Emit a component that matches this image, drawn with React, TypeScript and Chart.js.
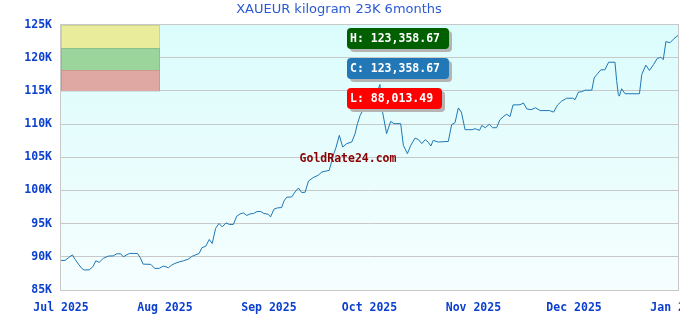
import React, { useEffect, useRef } from 'react';
import { Chart, registerables } from 'chart.js';

Chart.register(...registerables);

const TITLE = 'XAUEUR kilogram 23K 6months';
const WATERMARK = 'GoldRate24.com';

const MONTH_LABELS = ['Jul 2025', 'Aug 2025', 'Sep 2025', 'Oct 2025', 'Nov 2025', 'Dec 2025', 'Jan 2026'];
// days since 1 Jul 2025 at which each month starts
const MONTH_START_DAYS = [0, 31, 62, 92, 123, 153, 184];

const Y_MIN = 85000;
const Y_MAX = 125000;
const Y_STEP = 5000;

// days since 1 Jul 2025
const DAYS = [
  0, 1.2, 2.2, 3.4, 4.2, 5.2, 6.2, 6.9, 8.4, 9.5, 10.4, 11.4, 12.6, 14.1, 15.6, 16.6, 17.8, 18.6, 19.6, 20.4,
  22.8, 23.6, 24.5, 26.8, 27.9, 29.3, 30.5, 31.3, 32.0, 33.0, 34.0, 35.3, 36.5, 38.0, 39.0, 40.0, 41.2, 42.0,
  43.2, 44.2, 45.1, 46.1, 47.1, 48.1, 49.2, 50.2, 51.4, 52.4, 53.4, 54.4, 55.4, 56.4, 57.4, 58.5, 59.6, 60.5,
  61.8, 62.5, 63.5, 64.5, 65.8, 66.5, 67.3, 68.8, 69.8, 70.8, 71.8, 72.8, 73.8, 75.2, 76.7, 77.8, 78.7, 80.0,
  81.2, 82.0, 83.0, 84.0, 85.2, 86.7, 87.7, 88.4, 89.2, 90.0, 91.0, 92.2, 93.3, 94.2, 95.1, 95.9, 97.1, 98.3,
  99.3, 101.3, 102.1, 103.3, 104.3, 105.6, 106.6, 107.6, 108.6, 109.5, 110.3, 111.0, 112.5, 115.5, 116.5,
  117.5, 118.5, 119.4, 120.5, 122.6, 123.5, 124.8, 125.5, 126.5, 127.7, 128.7, 129.9, 130.9, 132.1, 132.9,
  133.9, 134.8, 136.9, 137.9, 138.9, 140.2, 141.5, 142.9, 145.7, 146.9, 148.1, 149.3, 150.8, 152.6, 153.3,
  154.3, 155.3, 156.3, 158.3, 159.0, 159.8, 161.0, 162.2, 163.3, 165.2, 165.7, 166.2, 166.5, 167.2, 168.2,
  172.5, 173.2, 174.4, 175.5, 176.7, 177.8, 178.9, 179.6, 180.4, 181.6, 182.8, 184.0,
];

const PRICES = [
  89460, 89460, 89850, 90300, 89610, 88900, 88260, 88013.49, 88030, 88500, 89400, 89160, 89760, 90110, 90150, 90450, 90450, 90000, 90300, 90510,
  90510, 89910, 88900, 88860, 88260, 88260, 88600, 88500, 88350, 88750, 89010, 89250, 89400, 89660, 90060, 90260, 90510, 91360,
  91610, 92620, 92020, 94270, 95030, 94510, 95120, 94880, 94880, 96120, 96470, 96620, 96230, 96470, 96530, 96830, 96830, 96530,
  96420, 96020, 97180, 97370, 97430, 98420, 98980, 99030, 99780, 100380, 99690, 99730, 101430, 101940, 102290, 102790, 102890, 103040,
  105300, 106460, 108310, 106550, 107060, 107300, 108560, 110070, 111310, 112070, 112970, 113720, 114170, 114620, 115980, 111810, 108560, 110410,
  110070, 110070, 106800, 105550, 106800, 107900, 107660, 107060, 107660, 107300, 106700, 107550, 107300, 107400, 109920,
  110220, 112440, 111810, 109160, 109160, 109310, 109060, 109810, 109460, 109960, 109460, 109460, 110670, 111210, 111490,
  111130, 112890, 112920, 113190, 112290, 112170, 112470, 112040, 112040, 111810, 112890, 113460, 113900, 113900, 113690,
  114820, 114890, 115120, 115120, 116950, 117480, 118190, 118190, 119330, 119330, 116580, 114470, 114220, 115330, 114580,
  114580, 117480, 118890, 118080, 118980, 119890, 120080, 119710, 122440, 122260, 122890, 123358.67,
];

// decorative colour bands at top-left of the plot
const BAND_EDGES = [125000, 121500, 118190, 115000];
const BAND_COLORS = ['#e9ed9b', '#9bd59b', '#e0a8a3'];
const BAND_END_DAY = 29.5;

const MONO = '"DejaVu Sans Mono", monospace';
const TICK_COLOR = '#0b3fcf';

function fmt(v: number): string {
  return v.toLocaleString('en-US', { minimumFractionDigits: 2, maximumFractionDigits: 2 });
}

function roundRect(ctx: CanvasRenderingContext2D, x: number, y: number, w: number, h: number, r: number) {
  ctx.beginPath();
  ctx.moveTo(x + r, y);
  ctx.lineTo(x + w - r, y);
  ctx.quadraticCurveTo(x + w, y, x + w, y + r);
  ctx.lineTo(x + w, y + h - r);
  ctx.quadraticCurveTo(x + w, y + h, x + w - r, y + h);
  ctx.lineTo(x + r, y + h);
  ctx.quadraticCurveTo(x, y + h, x, y + h - r);
  ctx.lineTo(x, y + r);
  ctx.quadraticCurveTo(x, y, x + r, y);
  ctx.closePath();
}

const decorPlugin = {
  id: 'decor',
  beforeDraw(chart: any) {
    const { ctx, chartArea: a } = chart;
    const g = ctx.createLinearGradient(0, a.top, 0, a.bottom);
    g.addColorStop(0, '#dbfcfc');
    g.addColorStop(1, '#f6fefe');
    ctx.save();
    ctx.fillStyle = g;
    ctx.fillRect(a.left, a.top, a.right - a.left, a.bottom - a.top);
    ctx.restore();
  },
  beforeDatasetsDraw(chart: any) {
    const { ctx, chartArea: a, scales } = chart;
    const xs = scales.x;
    const ys = scales.y;
    ctx.save();
    const x0 = Math.round(xs.getPixelForValue(0));
    const x1 = Math.round(xs.getPixelForValue(BAND_END_DAY));
    for (let i = 0; i < BAND_COLORS.length; i++) {
      const yTop = Math.round(ys.getPixelForValue(BAND_EDGES[i]));
      const yBot = Math.round(ys.getPixelForValue(BAND_EDGES[i + 1]));
      ctx.fillStyle = BAND_COLORS[i];
      ctx.fillRect(x0, yTop, x1 - x0, yBot - yTop);
      ctx.strokeStyle = 'rgba(0,0,0,0.10)';
      ctx.lineWidth = 1;
      ctx.strokeRect(x0 + 0.5, yTop + 0.5, x1 - x0 - 1, yBot - yTop);
    }
    // frame
    ctx.strokeStyle = '#c8c8c8';
    ctx.lineWidth = 1;
    ctx.strokeRect(Math.round(a.left) - 0.5, Math.round(a.top) - 0.5, Math.round(a.right - a.left) + 1, Math.round(a.bottom - a.top) + 1);
    ctx.restore();
  },
  afterDatasetsDraw(chart: any) {
    const { ctx, chartArea: a } = chart;
    const hi = Math.max(...PRICES);
    const lo = Math.min(...PRICES);
    const cur = PRICES[PRICES.length - 1];
    const items = [
      { text: 'H: ' + fmt(hi), color: '#005f00', cy: a.top + 14 },
      { text: 'C: ' + fmt(cur), color: '#2277b6', cy: a.top + 44 },
      { text: 'L: ' + fmt(lo), color: '#ff0000', cy: a.top + 73.5 },
    ];
    ctx.save();
    ctx.font = 'bold 11.5px ' + MONO;
    ctx.textBaseline = 'middle';
    ctx.textAlign = 'left';
    const bx = a.left + 286;
    const h = 21;
    for (const it of items) {
      const w = Math.round(ctx.measureText(it.text).width) + 12;
      const by = Math.round(it.cy - h / 2);
      ctx.fillStyle = '#b4b4b4';
      roundRect(ctx, bx + 3, by + 3, w, h, 4);
      ctx.fill();
      ctx.fillStyle = it.color;
      roundRect(ctx, bx, by, w, h, 4);
      ctx.fill();
      ctx.fillStyle = '#ffffff';
      ctx.fillText(it.text, bx + 3, it.cy + 0.5);
    }
    // watermark
    ctx.font = 'bold 11.5px ' + MONO;
    ctx.fillStyle = '#8b0000';
    ctx.textAlign = 'center';
    ctx.fillText(WATERMARK, a.left + 287, a.top + 134);
    ctx.restore();
  },
};

export default function App() {
  const ref = useRef<HTMLCanvasElement | null>(null);

  useEffect(() => {
    if (!ref.current) return;
    const chart = new Chart(ref.current, {
      type: 'line',
      data: {
        datasets: [
          {
            data: DAYS.map((d, i) => ({ x: d, y: PRICES[i] })),
            borderColor: '#1f77b4',
            borderWidth: 1,
            pointRadius: 0,
            tension: 0,
            fill: false,
          },
        ],
      },
      options: {
        animation: false,
        responsive: false,
        devicePixelRatio: 1,
        layout: { padding: { top: 0, right: 2, left: 0, bottom: 0 } },
        plugins: {
          legend: { display: false },
          tooltip: { enabled: false },
          title: {
            display: true,
            text: TITLE,
            color: '#2b5bd4',
            font: { family: '"DejaVu Sans", sans-serif', size: 13, weight: 'normal' },
            padding: { top: 2, bottom: 7 },
          },
        },
        scales: {
          x: {
            type: 'linear',
            min: MONTH_START_DAYS[0],
            max: MONTH_START_DAYS[MONTH_START_DAYS.length - 1],
            grid: { display: false, drawTicks: false },
            border: { display: false },
            afterBuildTicks: (scale: any) => {
              scale.ticks = MONTH_START_DAYS.map((v) => ({ value: v }));
            },
            afterFit: (scale: any) => {
              scale.height = 30;
              scale.paddingRight = 0;
              scale.paddingLeft = 0;
            },
            ticks: {
              autoSkip: false,
              maxRotation: 0,
              padding: 11,
              color: TICK_COLOR,
              font: { family: MONO, size: 11.5, weight: 'bold' },
              callback: (v: any) => {
                const i = MONTH_START_DAYS.indexOf(Number(v));
                return i >= 0 ? MONTH_LABELS[i] : '';
              },
            },
          },
          y: {
            min: Y_MIN,
            max: Y_MAX,
            grid: { color: '#c8c8c8', lineWidth: 1, drawTicks: false },
            border: { display: false },
            afterFit: (scale: any) => {
              scale.width = 61;
            },
            ticks: {
              stepSize: Y_STEP,
              padding: 9,
              color: TICK_COLOR,
              font: { family: MONO, size: 11.5, weight: 'bold' },
              callback: (v: any) => Number(v) / 1000 + 'K',
            },
          },
        },
      },
      plugins: [decorPlugin],
    });
    return () => chart.destroy();
  }, []);

  return (
    <div style={{ position: 'fixed', left: 0, top: 0, width: 680, height: 320, background: '#ffffff' }}>
      <canvas ref={ref} width={680} height={320} style={{ display: 'block', width: 680, height: 320 }} />
    </div>
  );
}
